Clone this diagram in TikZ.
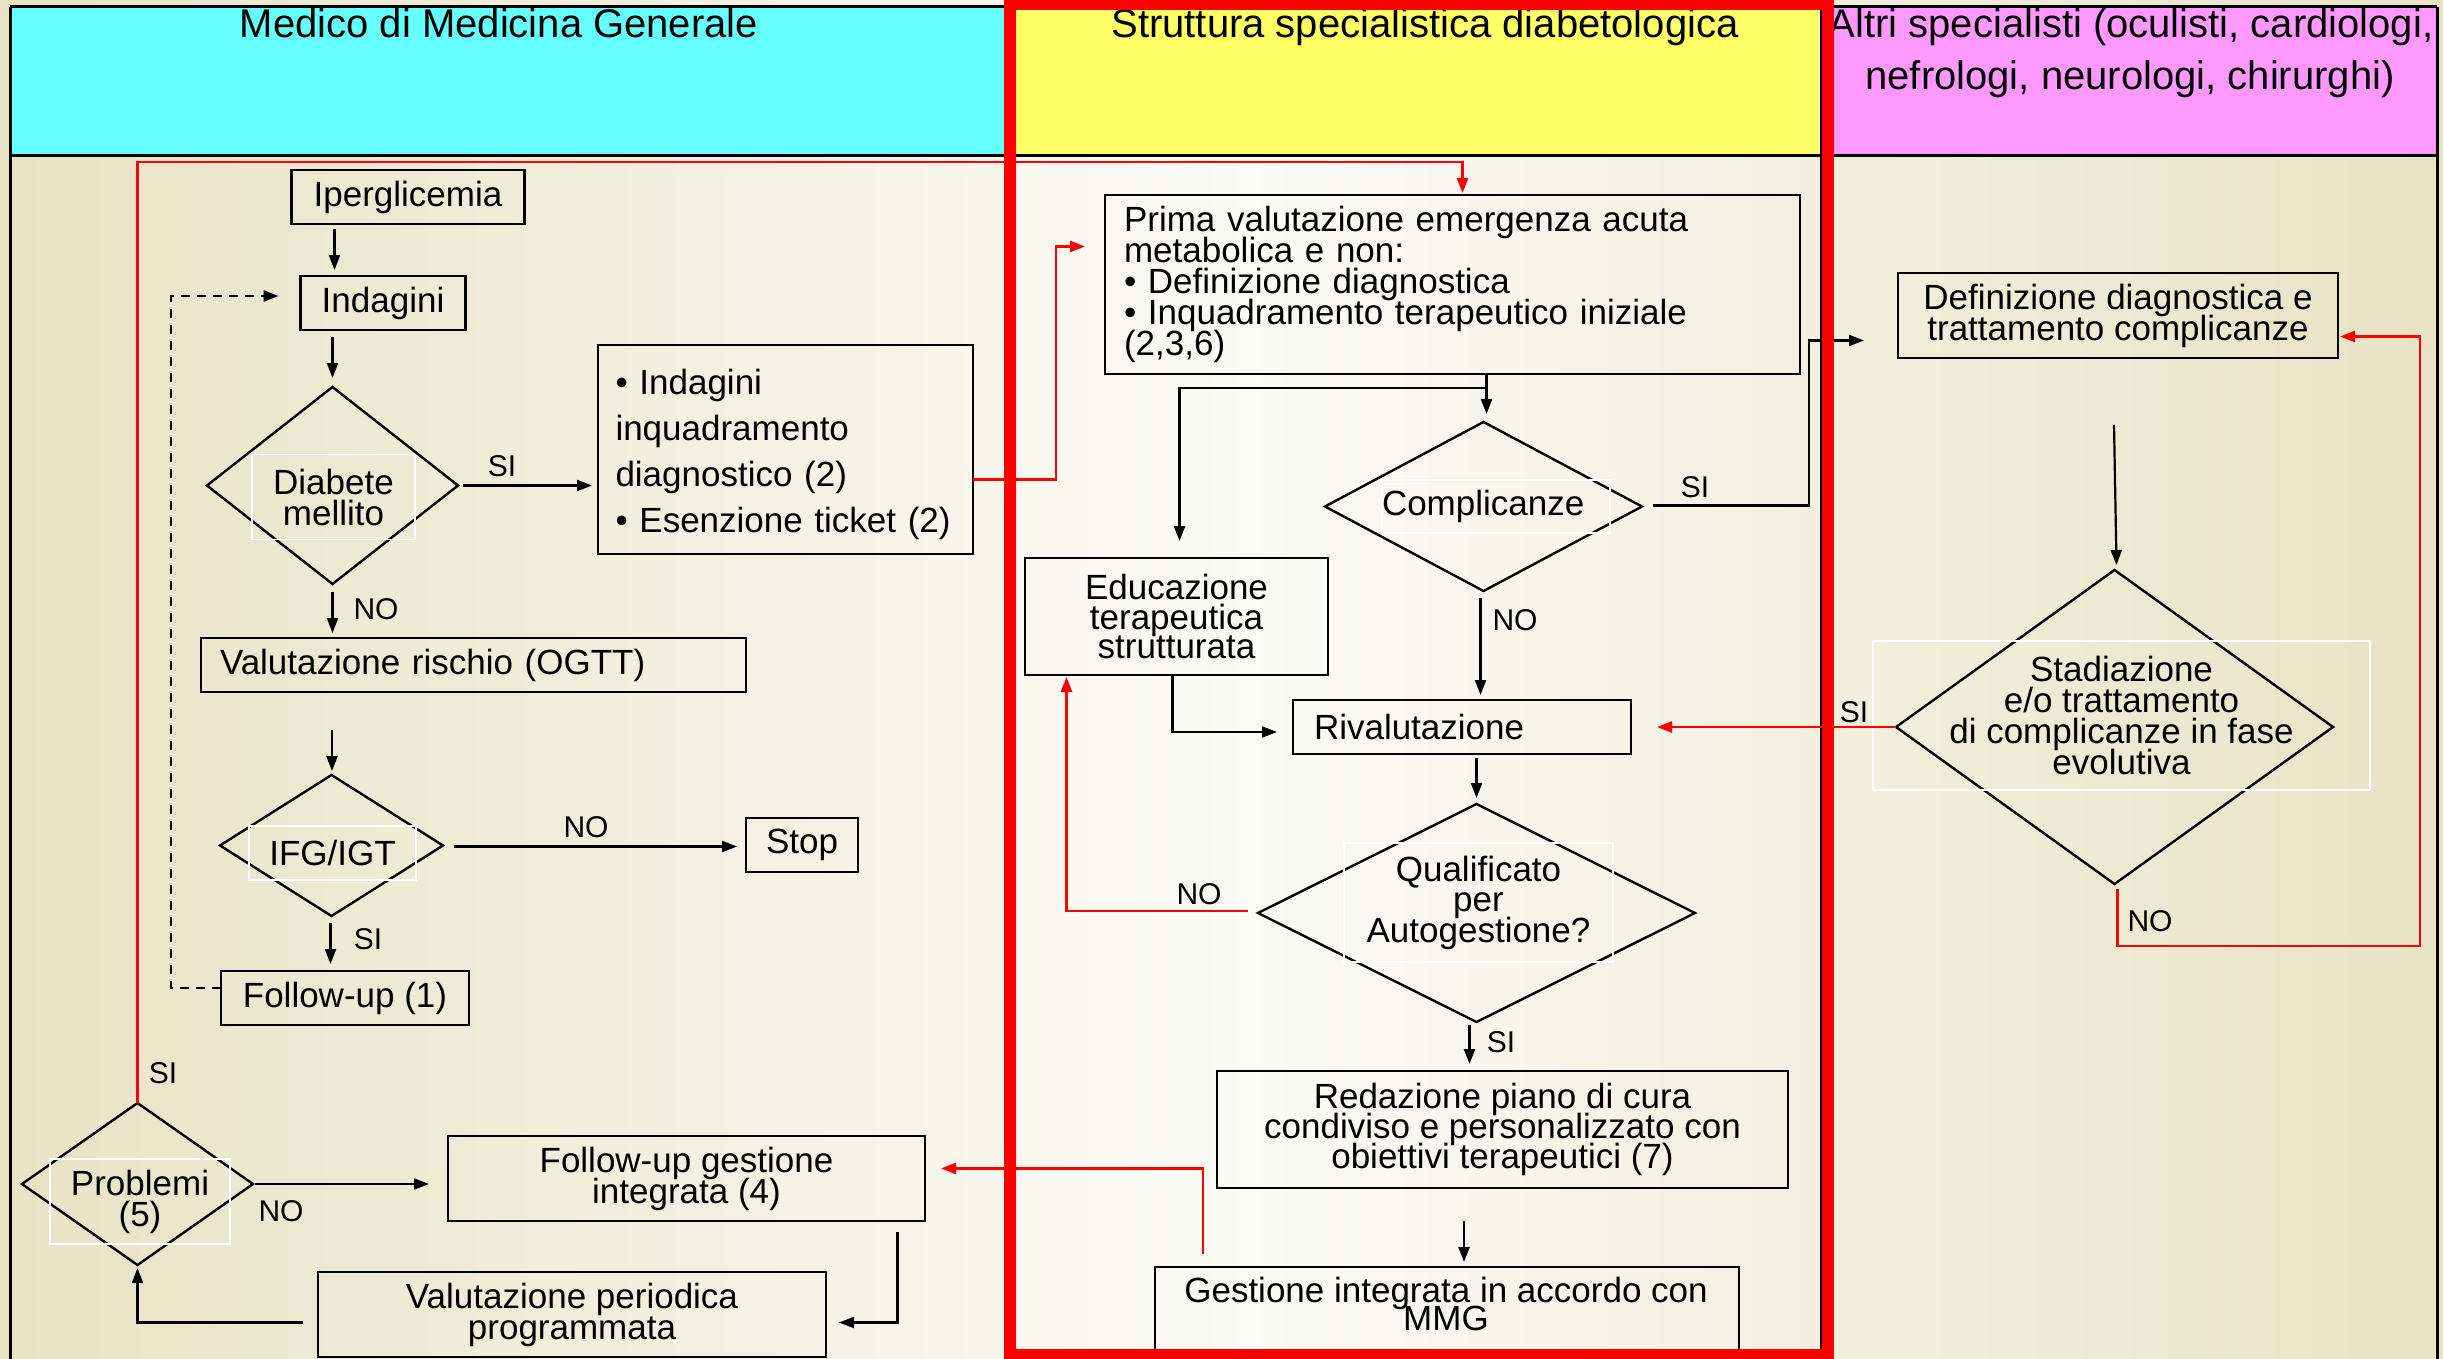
\documentclass[tikz,border=0pt]{standalone}
\usepackage{fontspec}
\setmainfont{Liberation Sans}
\usetikzlibrary{arrows.meta,calc,shapes.geometric}
\lineskiplimit=-100pt
\lineskip=0pt
\definecolor{tanbg}{HTML}{E8E2C5}
\definecolor{whitebg}{HTML}{FBFBF7}
\definecolor{hcyan}{HTML}{66FFFF}
\definecolor{hyellow}{HTML}{FFFF66}
\definecolor{hmag}{HTML}{FF99FF}
\begin{document}
\begin{tikzpicture}[x=1pt,y=-1pt,
  bx/.style={draw=black,line width=2.8pt,rectangle,inner sep=0pt,outer sep=0pt,font={\fontsize{35}{31}\selectfont\lineskiplimit=-100pt},align=center},
  lbx/.style={bx,align=left},
  dia/.style={draw=black,line width=2.4pt,diamond,inner sep=0pt,outer sep=0pt},
  dtext/.style={draw=white,line width=1.6pt,inner sep=0pt,font={\fontsize{35}{31}\selectfont\lineskiplimit=-100pt},align=center},
  plain/.style={inner sep=0pt,font={\fontsize{35}{28}\selectfont\lineskiplimit=-100pt},align=center},
  hdr/.style={inner sep=0pt,font=\fontsize{40}{48}\selectfont,anchor=base},
  arr/.style={line width=2.2pt,-{Triangle[length=15pt,width=11pt]}},
  redarr/.style={red,line width=2.5pt,-{Triangle[length=15pt,width=11pt]}},
  dsh/.style={line width=2.2pt,dash pattern=on 9pt off 7pt,-{Triangle[length=15pt,width=11pt]}},
  lbl/.style={font=\fontsize{30}{30}\selectfont,inner sep=0pt},
  lane/.style={draw=black,line width=3pt},
]
\useasboundingbox (0,0) rectangle (2443,1359);
% background
\shade[left color=tanbg,right color=whitebg] (0,0) rectangle (1250,1359);
\shade[left color=whitebg,right color=tanbg] (1250,0) rectangle (2443,1359);
% headers
\fill[hcyan] (10,7) rectangle (1005,156);
\fill[hyellow] (1005,7) rectangle (1821,156);
\fill[hmag] (1821,7) rectangle (2437,156);
\draw[lane] (10,7) -- (2437,7);
\draw[lane] (10,156) -- (2437,156);
\draw[lane] (10,7) -- (10,1359);
\draw[lane] (1005,7) -- (1005,1359);
\draw[lane] (1821,7) -- (1821,1359);
\draw[lane] (2437,7) -- (2437,1359);
\node[hdr] (h1) at (499,38) {Medico di Medicina Generale};
\node[hdr] (h2) at (1425,38) {Struttura specialistica diabetologica};
\node[hdr] (h3a) at (2131,38) {Altri specialisti (oculisti, cardiologi,};
\node[hdr] (h3b) at (2130,90) {nefrologi, neurologi, chirurghi)};

% lane 1 nodes
\node[bx,minimum width=233pt,minimum height=54pt] (ipg) at (408,197) {Iperglicemia};
\node[bx,minimum width=165pt,minimum height=54pt] (ind) at (383,303) {Indagini};
\node[dia,minimum width=251pt,minimum height=197pt] (dm) at (332.5,485.5) {};
\node[dtext,minimum width=163pt,minimum height=85pt] (dmt) at (333.5,497) {Diabete\\mellito};
\node[lbx,font={\fontsize{35}{46}\selectfont},text width=340pt,inner xsep=17.5pt,minimum height=209pt] (inq) at (785.5,449.5) {\rule{0pt}{35pt}\mbox{• Indagini}\\\mbox{inquadramento}\\\mbox{diagnostico (2)}\\\mbox{• Esenzione ticket (2)}};
\node[lbx,text width=507pt,inner xsep=19pt,minimum height=54pt] (vr) at (473.5,665) {Valutazione rischio (OGTT)};
\node[dia,minimum width=223pt,minimum height=141pt] (ifg) at (331.5,845.5) {};
\node[dtext,minimum width=167pt,minimum height=54pt] (ifgt) at (332.5,853) {IFG/IGT};
\node[bx,minimum width=112pt,minimum height=54pt] (stop) at (802,845) {Stop};
\node[bx,minimum width=248pt,minimum height=54pt] (fu1) at (345,998) {Follow-up (1)};
\node[dia,minimum width=231pt,minimum height=162pt] (prob) at (137.5,1184) {};
\node[dtext,minimum width=180pt,minimum height=85pt] (probt) at (140,1201.5) {Problemi\\(5)};
\node[bx,minimum width=477pt,minimum height=85pt] (fug) at (686.5,1178.5) {Follow-up gestione\\integrata (4)};
\node[bx,minimum width=508pt,minimum height=85pt] (vpp) at (572,1314.5) {Valutazione periodica\\programmata};

% lane 2 nodes
\node[lbx,text width=657pt,inner xsep=19pt,minimum height=179pt] (prima) at (1452.5,284.5) {Prima valutazione emergenza acuta\\metabolica e non:\\• Definizione diagnostica\\• Inquadramento terapeutico iniziale\\(2,3,6)};
\node[bx,font={\fontsize{35}{29.5}\selectfont\lineskiplimit=-100pt},minimum width=303pt,minimum height=117pt] (edu) at (1176.5,616.5) {Educazione\\terapeutica\\strutturata};
\node[dia,minimum width=317pt,minimum height=169pt] (comp) at (1483.5,506.5) {};
\node[dtext,align=left,text width=228pt,minimum height=53pt] (compt) at (1496,506.5) {Complicanze};
\node[lbx,text width=296pt,inner xsep=21pt,minimum height=54pt] (riv) at (1462,727) {Rivalutazione};
\node[dia,minimum width=437pt,minimum height=218pt] (qual) at (1476.5,913) {};
\node[dtext,font={\fontsize{35}{30.5}\selectfont\lineskiplimit=-100pt},minimum width=269pt,minimum height=119pt] (qualt) at (1478.5,902.5) {Qualificato\\per\\Autogestione?};
\node[bx,font={\fontsize{35}{30}\selectfont\lineskiplimit=-100pt},minimum width=571pt,minimum height=117pt] (red) at (1502.5,1129.5) {Redazione piano di cura\\condiviso e personalizzato con\\obiettivi terapeutici (7)};
\node[bx,minimum width=584pt,minimum height=85pt] (gest) at (1447,1309.5) {};
\node[plain] (gestt) at (1446,1304) {Gestione integrata in accordo con\\MMG};

% lane 3 nodes
\node[bx,minimum width=440pt,minimum height=85pt] (defn) at (2118,315.5) {Definizione diagnostica e\\trattamento complicanze};
\node[dia,minimum width=437pt,minimum height=314pt] (stad) at (2114.5,727) {};
\node[dtext,minimum width=497pt,minimum height=149pt] (stadt) at (2121.5,715.5) {Stadiazione\\e/o trattamento\\di complicanze in fase\\evolutiva};

% connectors lane 1
\draw[arr] ($(ipg.south -| dm.north)+(2,5)$) -- ($(ind.north -| dm.north)+(2,-6)$);
\draw[arr] ($(ind.south -| dm.north)+(0,7)$) -- ($(dm.north)+(0,-9)$);
\draw[arr] ($(dm.east)+(5,0)$) -- ($(inq.west |- dm.east)+(-6,0)$);
\node[lbl] (l1) at (502,466) {SI};
\draw[arr] ($(dm.south)+(0,8)$) -- ($(vr.north -| dm.south)+(0,-5)$);
\node[lbl] (l2) at (376,609) {NO};
\draw[arr] ($(vr.south -| ifg.north)+(0.5,38)$) -- ($(ifg.north)+(0.5,-4)$);
\draw[arr] ($(ifg.east)+(11,1)$) -- ($(stop.west |- ifg.east)+(-9,1)$);
\node[lbl] (l3) at (586,827) {NO};
\draw[arr] ($(ifg.south)+(-1,7)$) -- ($(fu1.north -| ifg.south)+(-1,-7)$);
\node[lbl] (l4) at (368,939) {SI};
\draw[dsh] ($(fu1.west)+(0,-10)$) -- ++(-50,0) |- ($(ind.west)+(-22,-7)$);
\draw[redarr] ($(inq.east)+(0,30)$) -| ($(prima.west)+(-49,-38)$) -- ($(prima.west)+(-20,-38)$);
\draw[redarr] (prob.north) |- ($(prima.north)+(10,-33)$) -- ($(prima.north)+(10,-2)$);
\node[lbl] (l5) at (163,1073) {SI};
\draw[arr] ($(prob.east)+(2,0)$) -- ($(fug.west |- prob.east)+(-19,0)$);
\node[lbl] (l6) at (281,1211) {NO};
\draw[arr] ($(fug.south)+(211,11)$) |- ($(vpp.east)+(13,8)$);
\draw[arr] ($(vpp.west)+(-15,8)$) -| ($(prob.south)+(0,3)$);
\draw[redarr] ($(gest.north)+(-244,-13)$) |- ($(fug.east)+(16,-10)$);

% connectors lane 2
\draw[arr] ($(prima.south -| comp.north)+(3,0)$) -- ($(comp.north)+(3,-8)$);
\draw[line width=2.2pt] ($(prima.south -| comp.north)+(-2,14)$) -- ($(prima.south -| comp.north)+(3,14)$);
\draw[arr] ($(prima.south -| comp.north)+(-2,14)$) -| ($(edu.north)+(3,-17)$);
\draw[arr] ($(comp.east)+(11,-1)$) -| ($(defn.west)+(-89,25)$) -- ($(defn.west)+(-34,25)$);
\node[lbl] (l7) at (1695,487) {SI};
\draw[arr] ($(comp.south)+(-3,7)$) -- ($(riv.north -| comp.south)+(-3,-5)$);
\node[lbl] (l8) at (1515,620) {NO};
\draw[arr] ($(edu.south)+(-4,1)$) |- ($(riv.west)+(-16,5)$);
\draw[redarr] (stad.west) -- ($(riv.east |- stad.west)+(26,0)$);
\node[lbl] (l9) at (1854,712) {SI};
\draw[arr] ($(riv.south -| qual.north)+(0,4)$) -- ($(qual.north)+(0,-6)$);
\draw[redarr] ($(qual.west)+(-10,-2)$) -| ($(edu.south)+(-110,2)$);
\node[lbl] (l10) at (1199,894) {NO};
\draw[arr] ($(qual.south)+(-7,3)$) -- ($(red.north -| qual.south)+(-7,-7)$);
\node[lbl] (l11) at (1501,1042) {SI};
\draw[arr] ($(red.south -| gest.north)+(17,33)$) -- ($(gest.north)+(17,-5)$);

% connectors lane 3
\draw[arr] ($(defn.south)+(-4,67)$) -- ($(stad.north)+(2,-5)$);
\draw[redarr] ($(stad.south)+(3,5)$) -- ++(0,57) -| ($(defn.east)+(82,21)$) -- ($(defn.east)+(2,21)$);
\node[lbl] (l12) at (2150,921) {NO};

% thick red frame
\draw[red,line width=12pt] (1010,4) rectangle (1828,1355);
\end{tikzpicture}
\end{document}
